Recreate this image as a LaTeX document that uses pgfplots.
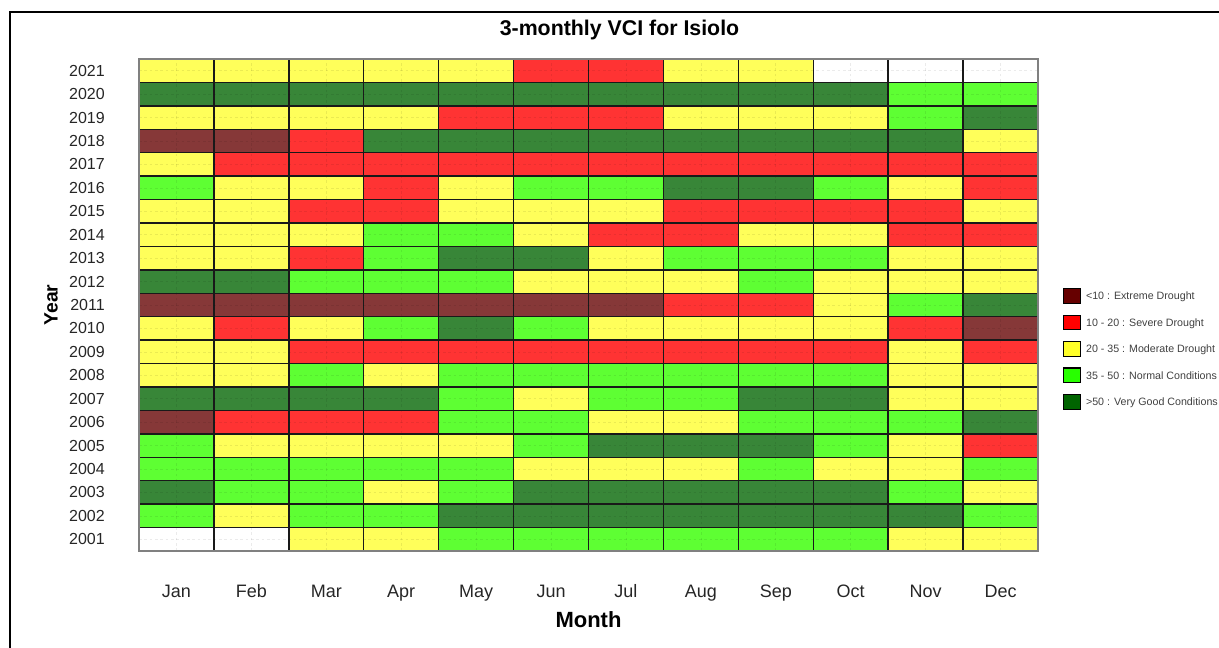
\documentclass[border=0pt]{standalone}
\usepackage{fontspec}
\setmainfont{Liberation Sans}
\usepackage{pgfplots}
\pgfplotsset{compat=1.18}
\definecolor{lE}{RGB}{102,0,0}
\definecolor{lS}{RGB}{255,0,0}
\definecolor{lM}{RGB}{255,255,40}
\definecolor{lN}{RGB}{40,255,0}
\definecolor{lG}{RGB}{0,100,0}
\begin{document}
\begin{tikzpicture}
\begin{axis}[
  at={(104.25pt,72.75pt)}, anchor=south west,
  scale only axis, width=674.25pt, height=369pt,
  xmin=-0.5, xmax=11.5, ymin=2000.5, ymax=2021.5,
  xtick={0,...,11},
  xticklabels={Jan,Feb,Mar,Apr,May,Jun,Jul,Aug,Sep,Oct,Nov,Dec},
  ytick={2001,...,2021},
  /pgf/number format/1000 sep={},
  /pgf/number format/assume math mode=true,
  major tick length=0pt, minor tick length=0pt,
  minor xtick={-0.5,0.5,1.5,2.5,3.5,4.5,5.5,6.5,7.5,8.5,9.5,10.5,11.5},
  minor ytick={2000.5,2001.5,2002.5,2003.5,2004.5,2005.5,2006.5,2007.5,2008.5,2009.5,2010.5,2011.5,2012.5,2013.5,2014.5,2015.5,2016.5,2017.5,2018.5,2019.5,2020.5,2021.5},
  xminorgrids, yminorgrids,
  minor grid style={black!90, line width=1.1pt},
  xmajorgrids, ymajorgrids,
  major grid style={black, opacity=0.08, dash pattern=on 2pt off 2pt, line width=0.5pt},
  axis on top,
  axis line style={gray, line width=1pt},
  colormap={vci}{rgb255=(255,255,255) rgb255=(134,56,56) rgb255=(255,51,51) rgb255=(255,255,90) rgb255=(94,255,51) rgb255=(56,134,56)},
  colormap access=direct,
  xticklabel style={anchor=base, yshift=-35.25pt, font=\fontsize{13.5}{15}\selectfont, text=black!85},
  yticklabel style={anchor=east, inner sep=0pt, xshift=-25.5pt, font=\fontsize{12}{14}\selectfont, text=black!85},
  every axis title shift=0pt,
  title={3-monthly VCI for Isiolo},
  title style={at={(axis description cs:0.5345,1)}, anchor=base, yshift=17.25pt, font=\bfseries\fontsize{16}{18}\selectfont},
  xlabel={Month}, ylabel={Year},
  xlabel style={at={(axis description cs:0.5,0)}, anchor=base, yshift=-57.75pt, font=\bfseries\fontsize{16.5}{18}\selectfont},
  ylabel style={at={(axis description cs:-0.0979,0.5)}, anchor=center, font=\bfseries\fontsize{14.5}{16}\selectfont},
  legend style={draw=none, fill=none, at={(1.0278,0.5346)}, anchor=north west, inner sep=0pt, row sep=8pt, font=\fontsize{8}{9}\selectfont, text=black!75, nodes={inner sep=0pt, text depth=0pt}},
  legend cell align=left,
  legend image code/.code={\draw[#1, line width=0.8pt] (0pt,-5.5pt) rectangle (12.5pt,5.5pt); \path (16.5pt,0pt);},
]
\addplot[matrix plot*, mesh/cols=12, shader=flat corner, point meta=explicit, forget plot]
table[row sep=\\, meta=c] {
x y c \\
0 2001 0 \\ 1 2001 0 \\ 2 2001 3 \\ 3 2001 3 \\ 4 2001 4 \\ 5 2001 4 \\ 6 2001 4 \\ 7 2001 4 \\ 8 2001 4 \\ 9 2001 4 \\ 10 2001 3 \\ 11 2001 3 \\
0 2002 4 \\ 1 2002 3 \\ 2 2002 4 \\ 3 2002 4 \\ 4 2002 5 \\ 5 2002 5 \\ 6 2002 5 \\ 7 2002 5 \\ 8 2002 5 \\ 9 2002 5 \\ 10 2002 5 \\ 11 2002 4 \\
0 2003 5 \\ 1 2003 4 \\ 2 2003 4 \\ 3 2003 3 \\ 4 2003 4 \\ 5 2003 5 \\ 6 2003 5 \\ 7 2003 5 \\ 8 2003 5 \\ 9 2003 5 \\ 10 2003 4 \\ 11 2003 3 \\
0 2004 4 \\ 1 2004 4 \\ 2 2004 4 \\ 3 2004 4 \\ 4 2004 4 \\ 5 2004 3 \\ 6 2004 3 \\ 7 2004 3 \\ 8 2004 4 \\ 9 2004 3 \\ 10 2004 3 \\ 11 2004 4 \\
0 2005 4 \\ 1 2005 3 \\ 2 2005 3 \\ 3 2005 3 \\ 4 2005 3 \\ 5 2005 4 \\ 6 2005 5 \\ 7 2005 5 \\ 8 2005 5 \\ 9 2005 4 \\ 10 2005 3 \\ 11 2005 2 \\
0 2006 1 \\ 1 2006 2 \\ 2 2006 2 \\ 3 2006 2 \\ 4 2006 4 \\ 5 2006 4 \\ 6 2006 3 \\ 7 2006 3 \\ 8 2006 4 \\ 9 2006 4 \\ 10 2006 4 \\ 11 2006 5 \\
0 2007 5 \\ 1 2007 5 \\ 2 2007 5 \\ 3 2007 5 \\ 4 2007 4 \\ 5 2007 3 \\ 6 2007 4 \\ 7 2007 4 \\ 8 2007 5 \\ 9 2007 5 \\ 10 2007 3 \\ 11 2007 3 \\
0 2008 3 \\ 1 2008 3 \\ 2 2008 4 \\ 3 2008 3 \\ 4 2008 4 \\ 5 2008 4 \\ 6 2008 4 \\ 7 2008 4 \\ 8 2008 4 \\ 9 2008 4 \\ 10 2008 3 \\ 11 2008 3 \\
0 2009 3 \\ 1 2009 3 \\ 2 2009 2 \\ 3 2009 2 \\ 4 2009 2 \\ 5 2009 2 \\ 6 2009 2 \\ 7 2009 2 \\ 8 2009 2 \\ 9 2009 2 \\ 10 2009 3 \\ 11 2009 2 \\
0 2010 3 \\ 1 2010 2 \\ 2 2010 3 \\ 3 2010 4 \\ 4 2010 5 \\ 5 2010 4 \\ 6 2010 3 \\ 7 2010 3 \\ 8 2010 3 \\ 9 2010 3 \\ 10 2010 2 \\ 11 2010 1 \\
0 2011 1 \\ 1 2011 1 \\ 2 2011 1 \\ 3 2011 1 \\ 4 2011 1 \\ 5 2011 1 \\ 6 2011 1 \\ 7 2011 2 \\ 8 2011 2 \\ 9 2011 3 \\ 10 2011 4 \\ 11 2011 5 \\
0 2012 5 \\ 1 2012 5 \\ 2 2012 4 \\ 3 2012 4 \\ 4 2012 4 \\ 5 2012 3 \\ 6 2012 3 \\ 7 2012 3 \\ 8 2012 4 \\ 9 2012 3 \\ 10 2012 3 \\ 11 2012 3 \\
0 2013 3 \\ 1 2013 3 \\ 2 2013 2 \\ 3 2013 4 \\ 4 2013 5 \\ 5 2013 5 \\ 6 2013 3 \\ 7 2013 4 \\ 8 2013 4 \\ 9 2013 4 \\ 10 2013 3 \\ 11 2013 3 \\
0 2014 3 \\ 1 2014 3 \\ 2 2014 3 \\ 3 2014 4 \\ 4 2014 4 \\ 5 2014 3 \\ 6 2014 2 \\ 7 2014 2 \\ 8 2014 3 \\ 9 2014 3 \\ 10 2014 2 \\ 11 2014 2 \\
0 2015 3 \\ 1 2015 3 \\ 2 2015 2 \\ 3 2015 2 \\ 4 2015 3 \\ 5 2015 3 \\ 6 2015 3 \\ 7 2015 2 \\ 8 2015 2 \\ 9 2015 2 \\ 10 2015 2 \\ 11 2015 3 \\
0 2016 4 \\ 1 2016 3 \\ 2 2016 3 \\ 3 2016 2 \\ 4 2016 3 \\ 5 2016 4 \\ 6 2016 4 \\ 7 2016 5 \\ 8 2016 5 \\ 9 2016 4 \\ 10 2016 3 \\ 11 2016 2 \\
0 2017 3 \\ 1 2017 2 \\ 2 2017 2 \\ 3 2017 2 \\ 4 2017 2 \\ 5 2017 2 \\ 6 2017 2 \\ 7 2017 2 \\ 8 2017 2 \\ 9 2017 2 \\ 10 2017 2 \\ 11 2017 2 \\
0 2018 1 \\ 1 2018 1 \\ 2 2018 2 \\ 3 2018 5 \\ 4 2018 5 \\ 5 2018 5 \\ 6 2018 5 \\ 7 2018 5 \\ 8 2018 5 \\ 9 2018 5 \\ 10 2018 5 \\ 11 2018 3 \\
0 2019 3 \\ 1 2019 3 \\ 2 2019 3 \\ 3 2019 3 \\ 4 2019 2 \\ 5 2019 2 \\ 6 2019 2 \\ 7 2019 3 \\ 8 2019 3 \\ 9 2019 3 \\ 10 2019 4 \\ 11 2019 5 \\
0 2020 5 \\ 1 2020 5 \\ 2 2020 5 \\ 3 2020 5 \\ 4 2020 5 \\ 5 2020 5 \\ 6 2020 5 \\ 7 2020 5 \\ 8 2020 5 \\ 9 2020 5 \\ 10 2020 4 \\ 11 2020 4 \\
0 2021 3 \\ 1 2021 3 \\ 2 2021 3 \\ 3 2021 3 \\ 4 2021 3 \\ 5 2021 2 \\ 6 2021 2 \\ 7 2021 3 \\ 8 2021 3 \\ 9 2021 0 \\ 10 2021 0 \\ 11 2021 0 \\
};
\addlegendimage{fill=lE, draw=black}
\addlegendentry{<10 : Extreme Drought}
\addlegendimage{fill=lS, draw=black}
\addlegendentry{10 - 20 : Severe Drought}
\addlegendimage{fill=lM, draw=black}
\addlegendentry{20 - 35 : Moderate Drought}
\addlegendimage{fill=lN, draw=black}
\addlegendentry{35 - 50 : Normal Conditions}
\addlegendimage{fill=lG, draw=black}
\addlegendentry{>50 : Very Good Conditions}
\end{axis}
\draw[line width=1.1pt] (7.5pt,-5pt) -- (7.5pt,477pt) -- (930pt,477pt);
\pgfresetboundingbox
\useasboundingbox (0,0) rectangle (914.25pt,486pt);
\end{tikzpicture}
\end{document}
